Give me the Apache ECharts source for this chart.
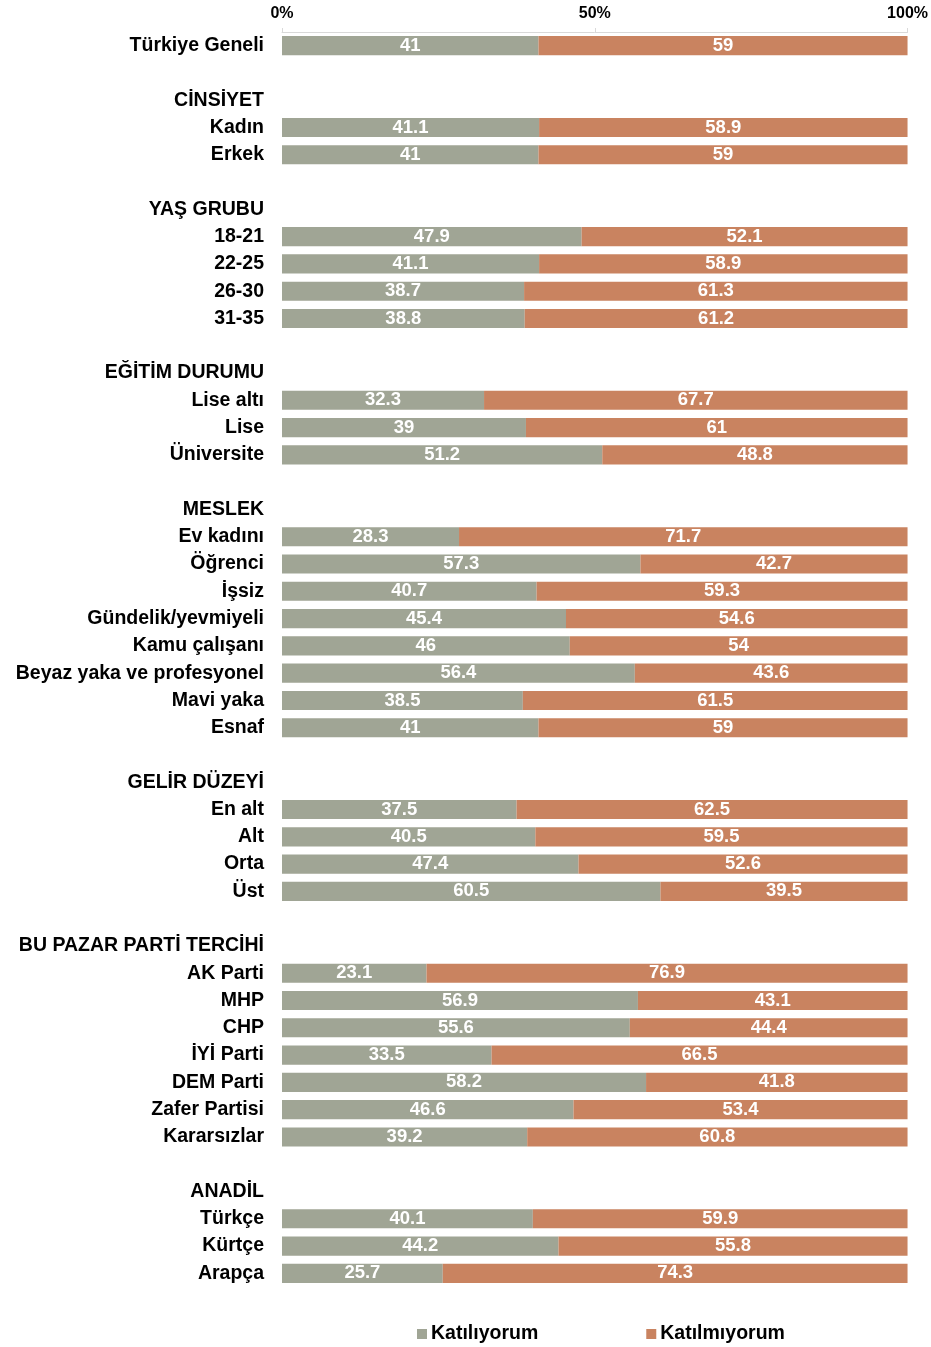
<!DOCTYPE html>
<html><head><meta charset="utf-8">
<script src="https://cdn.jsdelivr.net/npm/echarts@6/dist/echarts.min.js"></script>
<style>html,body{margin:0;padding:0;background:#fff}#c{width:931px;height:1347px}</style>
</head><body><div id="c"></div>
<script>
const categories = ["Türkiye Geneli","","CİNSİYET","Kadın","Erkek","","YAŞ GRUBU","18-21","22-25","26-30","31-35","","EĞİTİM DURUMU","Lise altı","Lise","Üniversite","","MESLEK","Ev kadını","Öğrenci","İşsiz","Gündelik/yevmiyeli","Kamu çalışanı","Beyaz yaka ve profesyonel","Mavi yaka","Esnaf","","GELİR DÜZEYİ","En alt","Alt","Orta","Üst","","BU PAZAR PARTİ TERCİHİ","AK Parti","MHP","CHP","İYİ Parti","DEM Parti","Zafer Partisi","Kararsızlar","","ANADİL","Türkçe","Kürtçe","Arapça"];
const katiliyorum = [41,null,null,41.1,41,null,null,47.9,41.1,38.7,38.8,null,null,32.3,39,51.2,null,null,28.3,57.3,40.7,45.4,46,56.4,38.5,41,null,null,37.5,40.5,47.4,60.5,null,null,23.1,56.9,55.6,33.5,58.2,46.6,39.2,null,null,40.1,44.2,25.7];
const katilmiyorum = [59,null,null,58.9,59,null,null,52.1,58.9,61.3,61.2,null,null,67.7,61,48.8,null,null,71.7,42.7,59.3,54.6,54,43.6,61.5,59,null,null,62.5,59.5,52.6,39.5,null,null,76.9,43.1,44.4,66.5,41.8,53.4,60.8,null,null,59.9,55.8,74.3];
const seriesNames = ["Katılıyorum","Katılmıyorum"];
const xTicks = [0,50,100];

const chart = echarts.init(document.getElementById('c'), null, {renderer:'canvas'});
const font = '"Liberation Sans", Arial, sans-serif';
const lbl = {show:true, color:'#fff', fontWeight:'bold', fontSize:18.5, fontFamily:font, formatter:p=>p.value==null?'':String(p.value)};
chart.setOption({
  animation:false,
  grid:{left:282,right:23,top:32,bottom:60,containLabel:false},
  xAxis:{type:'value',position:'top',min:xTicks[0],max:xTicks[2],interval:50,
    axisLine:{show:true,lineStyle:{color:'#d9d9d9',width:1}},
    axisTick:{show:true,length:4,lineStyle:{color:'#d9d9d9'}},
    splitLine:{show:false},
    axisLabel:{formatter:'{value}%',color:'#000',fontWeight:'bold',fontSize:16,fontFamily:font,margin:10}},
  yAxis:{type:'category',inverse:true,data:categories,
    axisLine:{show:false},axisTick:{show:false},
    axisLabel:{color:'#000',fontWeight:'bold',fontSize:19.5,fontFamily:font,margin:18,interval:0}},
  legend:{top:1324,left:417,padding:0,itemGap:108,itemWidth:10,itemHeight:10,icon:'rect',
    textStyle:{color:'#000',fontWeight:'bold',fontSize:19.5,fontFamily:font,padding:[0,0,0,-1]},
    data:seriesNames},
  series:[
    {name:seriesNames[0],type:'bar',stack:'s',data:katiliyorum,barCategoryGap:'30%',itemStyle:{color:'#a0a595'},label:lbl},
    {name:seriesNames[1],type:'bar',stack:'s',data:katilmiyorum,barCategoryGap:'30%',itemStyle:{color:'#c98360'},label:lbl}
  ]
});
</script></body></html>
